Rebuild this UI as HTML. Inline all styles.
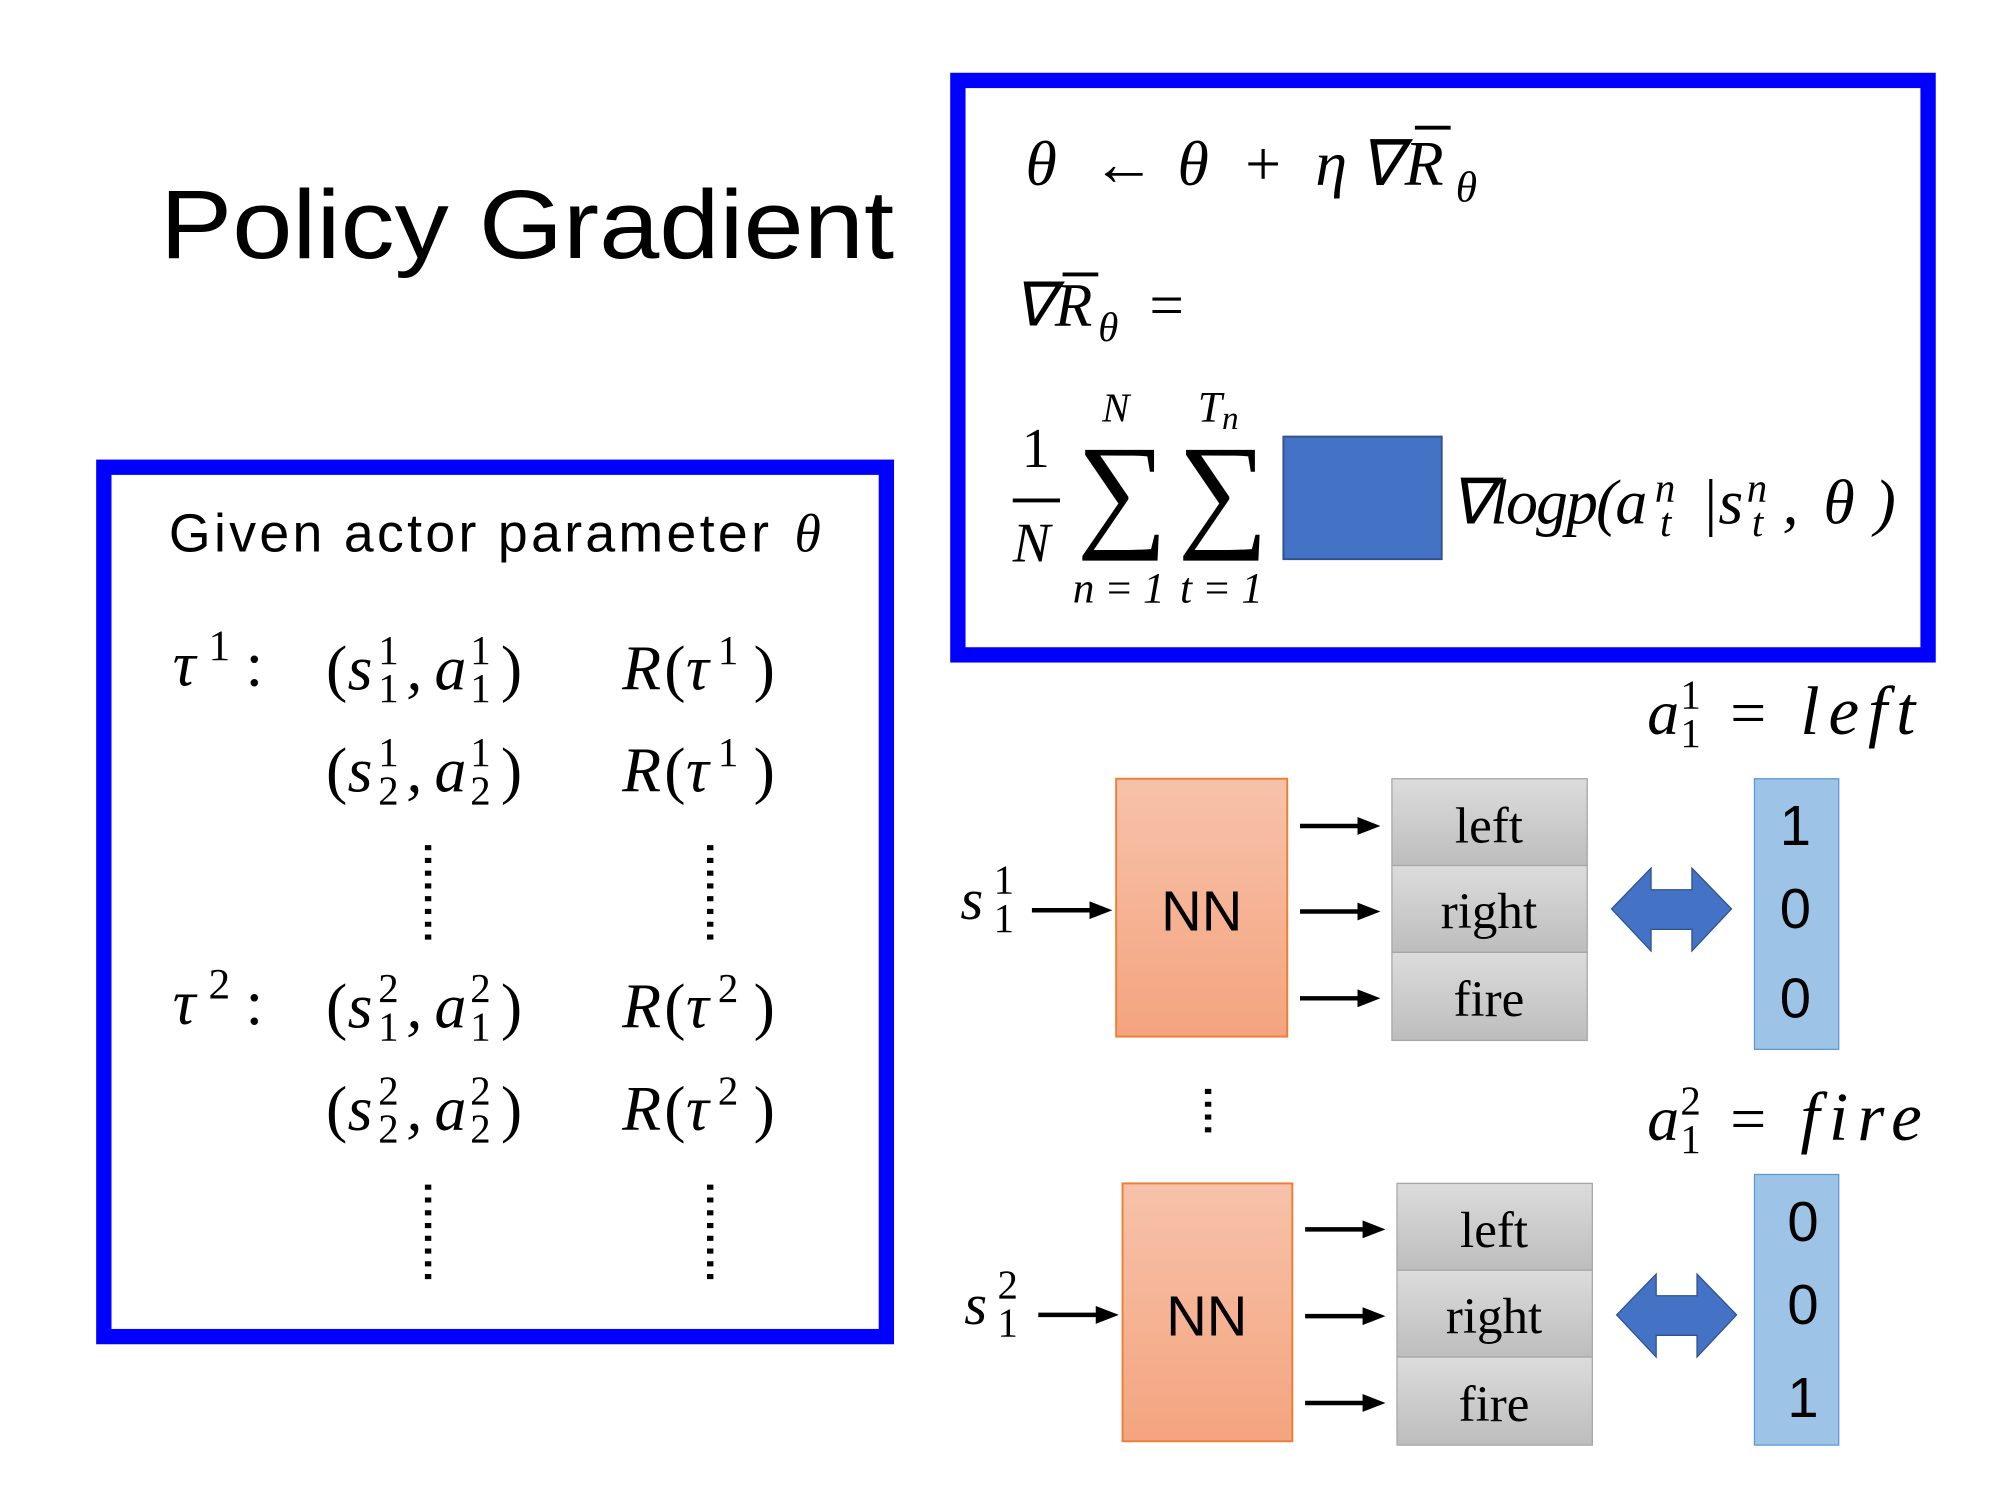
<!DOCTYPE html>
<html><head><meta charset="utf-8"><style>
html,body{margin:0;padding:0;background:#fff;width:2000px;height:1500px;overflow:hidden}
svg{display:block}
.m{font-family:"Liberation Serif",serif;font-style:italic;fill:#000}
.s{font-family:"Liberation Sans",sans-serif;fill:#000}
.r{font-family:"Liberation Serif",serif;fill:#000}
</style></head><body>
<svg id="root" width="2000" height="1500" viewBox="0 0 1566 1175">
<defs>
<linearGradient id="og" x1="0" y1="0" x2="0" y2="1"><stop offset="0" stop-color="#F7C2AA"/><stop offset="1" stop-color="#F4A47F"/></linearGradient>
<linearGradient id="gg" x1="0" y1="0" x2="0" y2="1"><stop offset="0" stop-color="#DCDCDC"/><stop offset="1" stop-color="#BDBDBD"/></linearGradient>
<marker id="ah" markerWidth="18" markerHeight="14" refX="2" refY="7" orient="auto" markerUnits="userSpaceOnUse"><path d="M0,0 L18,7 L0,14 z" fill="#000"/></marker>
</defs>

<text x="125" y="202" class="s" font-size="76" textLength="575" lengthAdjust="spacingAndGlyphs">Policy Gradient</text>

<!-- Right formula box -->
<rect x="750" y="63" width="760" height="450" fill="none" stroke="#0000FF" stroke-width="12"/>
<g class="m" font-size="50">
<text x="803" y="145">θ</text><text x="855" y="145">←</text><text x="922" y="145">θ</text><text x="975" y="145" class="r" style="font-style:normal">+</text><text x="1030" y="145">η</text><text x="1064" y="145">∇</text><text x="1100" y="145">R</text><text x="1140" y="158" font-size="34">θ</text>
<line x1="1108" y1="100" x2="1136" y2="100" stroke="#000" stroke-width="3"/>
</g>
<g class="m" font-size="48">
<text x="793" y="255">∇</text><text x="826" y="255">R</text><text x="860" y="267" font-size="32">θ</text><text x="900" y="255" class="r" style="font-style:normal">=</text>
<line x1="832" y1="215" x2="860" y2="215" stroke="#000" stroke-width="3"/>
</g>
<text x="800" y="366" class="r" font-size="44">1</text>
<line x1="793" y1="392" x2="830" y2="392" stroke="#000" stroke-width="3"/>
<text x="793" y="440" class="m" font-size="44">N</text>
<text x="843" y="418" class="r" font-size="100">∑</text>
<text x="863" y="330" class="m" font-size="32">N</text>
<text x="840" y="472" class="m" font-size="34" textLength="72">n=1</text>
<text x="922" y="418" class="r" font-size="100">∑</text>
<text x="938" y="330" class="m" font-size="34">T<tspan font-size="26" dy="6">n</tspan></text>
<text x="924" y="472" class="m" font-size="34" textLength="65">t=1</text>
<rect x="1005" y="342" width="124" height="96" fill="#4472C4" stroke="#2F528F" stroke-width="1.5"/>
<g class="m" font-size="50">
<text x="1135" y="410" textLength="155">∇logp(a</text>
<text x="1296" y="393" font-size="32">n</text><text x="1300" y="420" font-size="32">t</text>
<text x="1332" y="410">|s</text>
<text x="1368" y="393" font-size="32">n</text><text x="1372" y="420" font-size="32">t</text>
<text x="1396" y="410">,</text><text x="1428" y="410">θ</text><text x="1468" y="410">)</text>
</g>

<!-- Left box -->
<rect x="81" y="366" width="613" height="681" fill="none" stroke="#0000FF" stroke-width="12"/>
<text x="132" y="432" class="s" font-size="42" textLength="470">Given actor parameter</text>
<text x="622" y="432" class="m" font-size="42">θ</text>
<g id="traj" class="m" font-size="50"></g>
<g stroke="#000" stroke-width="5" stroke-dasharray="4 6">
<line x1="335" y1="662" x2="335" y2="738"/><line x1="556" y1="662" x2="556" y2="738"/>
<line x1="335" y1="928" x2="335" y2="1004"/><line x1="556" y1="928" x2="556" y2="1004"/>
<line x1="946" y1="853" x2="946" y2="888"/>
</g>

<g id="labels" class="m" font-size="50"></g>

<!-- Block 1 -->
<line x1="808" y1="713" x2="855" y2="713" stroke="#000" stroke-width="3.5" marker-end="url(#ah)"/>
<rect x="874" y="610" width="134" height="202" fill="url(#og)" stroke="#ED7D31" stroke-width="1.5"/>
<text x="941" y="729" class="s" font-size="44" text-anchor="middle">NN</text>
<g stroke="#000" stroke-width="3.5"><line x1="1018" y1="647" x2="1065" y2="647" marker-end="url(#ah)"/><line x1="1018" y1="714" x2="1065" y2="714" marker-end="url(#ah)"/><line x1="1018" y1="782" x2="1065" y2="782" marker-end="url(#ah)"/></g>
<g stroke="#A6A6A6" stroke-width="1"><rect x="1090" y="610" width="153" height="68" fill="url(#gg)"/><rect x="1090" y="678" width="153" height="68" fill="url(#gg)"/><rect x="1090" y="746" width="153" height="69" fill="url(#gg)"/></g>
<g class="r" font-size="40" text-anchor="middle"><text x="1166" y="660">left</text><text x="1166" y="727">right</text><text x="1166" y="796">fire</text></g>
<path d="M1262,712 L1293,680 L1293,697 L1325,697 L1325,680 L1356,712 L1325,745 L1325,728 L1293,728 L1293,745 Z" fill="#4472C4" stroke="#2F528F"/>
<rect x="1374" y="610" width="66" height="212" fill="#9DC3E6" stroke="#5B9BD5"/>
<g class="s" font-size="44" text-anchor="middle"><text x="1406" y="662">1</text><text x="1406" y="727">0</text><text x="1406" y="797">0</text></g>

<!-- Block 2 -->
<line x1="813" y1="1030" x2="860" y2="1030" stroke="#000" stroke-width="3.5" marker-end="url(#ah)"/>
<rect x="879" y="927" width="133" height="202" fill="url(#og)" stroke="#ED7D31" stroke-width="1.5"/>
<text x="945" y="1046" class="s" font-size="44" text-anchor="middle">NN</text>
<g stroke="#000" stroke-width="3.5"><line x1="1022" y1="963" x2="1069" y2="963" marker-end="url(#ah)"/><line x1="1022" y1="1031" x2="1069" y2="1031" marker-end="url(#ah)"/><line x1="1022" y1="1099" x2="1069" y2="1099" marker-end="url(#ah)"/></g>
<g stroke="#A6A6A6" stroke-width="1"><rect x="1094" y="927" width="153" height="68" fill="url(#gg)"/><rect x="1094" y="995" width="153" height="68" fill="url(#gg)"/><rect x="1094" y="1063" width="153" height="69" fill="url(#gg)"/></g>
<g class="r" font-size="40" text-anchor="middle"><text x="1170" y="977">left</text><text x="1170" y="1044">right</text><text x="1170" y="1113">fire</text></g>
<path d="M1266,1030 L1297,998 L1297,1015 L1329,1015 L1329,998 L1360,1030 L1329,1063 L1329,1046 L1297,1046 L1297,1063 Z" fill="#4472C4" stroke="#2F528F"/>
<rect x="1374" y="920" width="66" height="212" fill="#9DC3E6" stroke="#5B9BD5"/>
<g class="s" font-size="44" text-anchor="middle"><text x="1412" y="972">0</text><text x="1412" y="1037">0</text><text x="1412" y="1110">1</text></g>
</svg>
<script>
var NS="http://www.w3.org/2000/svg";
function T(g,x,y,s,fs,up){var e=document.createElementNS(NS,"text");e.setAttribute("x",x);e.setAttribute("y",y);if(fs)e.setAttribute("font-size",fs);if(up)e.setAttribute("style","font-style:normal");e.textContent=s;g.appendChild(e);}
function sxsy(g,x,y,sup,sub){T(g,x,y-20,sup,32,true);T(g,x,y+10,sub,32,true);}
var tr=document.getElementById("traj");
function pair(y,supS,subS){T(tr,255,y,"(",null,true);T(tr,272,y,"s");sxsy(tr,296,y,supS,subS);T(tr,318,y,",");T(tr,340,y,"a");sxsy(tr,368,y,supS,subS);T(tr,392,y,")",null,true);}
function rt(y,n){T(tr,487,y,"R");T(tr,520,y,"(",null,true);T(tr,537,y,"τ");T(tr,562,y-20,n,32,true);T(tr,590,y,")",null,true);}
[[540,"1","1"],[620,"1","2"],[805,"2","1"],[885,"2","2"]].forEach(function(r){pair(r[0],r[1],r[2]);rt(r[0],r[1]);});
T(tr,135,537,"τ");T(tr,163,517,"1",34,true);T(tr,192,537,":",null,true);
T(tr,135,802,"τ");T(tr,163,782,"2",34,true);T(tr,192,802,":",null,true);
var lb=document.getElementById("labels");
T(lb,1290,575,"a");sxsy(lb,1316,575,"1","1");T(lb,1355,575,"=",null,true);
var e1=document.createElementNS(NS,"text");e1.setAttribute("x",1410);e1.setAttribute("y",575);e1.setAttribute("font-size",54);e1.setAttribute("textLength",90);e1.textContent="left";lb.appendChild(e1);


T(lb,1290,893,"a");sxsy(lb,1316,893,"2","1");T(lb,1355,893,"=",null,true);
var e2=document.createElementNS(NS,"text");e2.setAttribute("x",1410);e2.setAttribute("y",893);e2.setAttribute("font-size",54);e2.setAttribute("textLength",95);e2.textContent="fire";lb.appendChild(e2);


T(lb,752,720,"s",46);sxsy(lb,778,720,"1","1");
T(lb,755,1037,"s",46);sxsy(lb,781,1037,"2","1");
</script>
</body></html>
